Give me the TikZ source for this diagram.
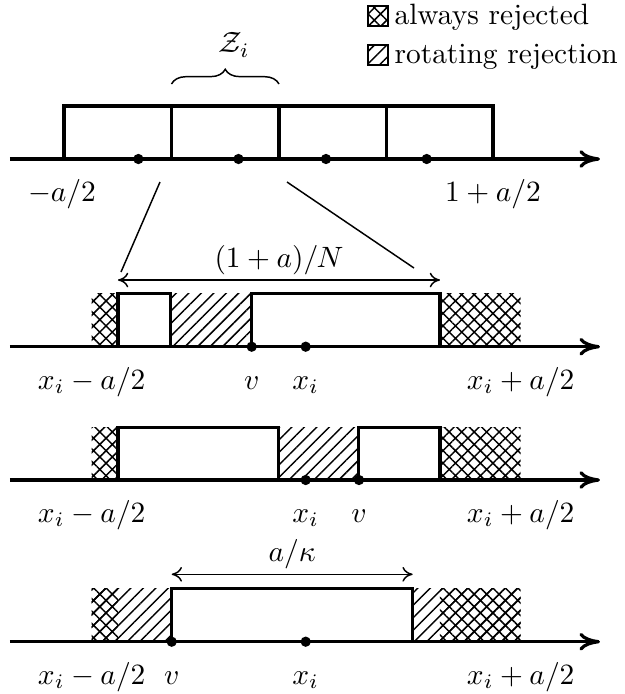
\documentclass[tikz,border=0pt]{standalone}
\usetikzlibrary{patterns.meta,arrows.meta,decorations.pathreplacing}
\begin{document}
\begin{tikzpicture}[x=0.34pt,y=-0.34pt,
  axis/.style={line width=1.1pt,-{To[length=7pt,width=6pt]}},
  bx/.style={line width=1.1pt},
  dot/.style={circle,fill,inner sep=0pt,minimum size=3.5pt},
  lbl/.style={anchor=base,inner sep=0pt},
  span/.style={line width=0.5pt,{To[length=3.5pt,width=5pt]}-{To[length=3.5pt,width=5pt]}},
  cross/.style={pattern={Hatch[angle=45,distance=3pt,line width=0.5pt]}},
  hatch/.style={pattern={Lines[angle=45,distance=3pt,line width=0.5pt]}},
  zoomline/.style={line width=0.5pt}]
\useasboundingbox (0,0) rectangle (624,694);

% legend
\draw[line width=0.6pt,cross] (368,6) rectangle (388,26);
\node[lbl,anchor=base west] (lg1) at (394,24) {always rejected};
\draw[line width=0.6pt,hatch] (368,45) rectangle (388,65);
\node[lbl,anchor=base west] (lg2) at (394,63) {rotating rejection};

% top panel
\coordinate (a0) at (10,159);
\coordinate (a1) at (600,159);
\draw[bx] (64,159) -- (64,106) -- (493,106) -- (493,159);
\foreach \x in {171.5,279,386.8} \draw[bx] (\x,106) -- (\x,159);
\draw[axis] (a0) -- (a1);
\foreach \x/\n in {138.4/d1,238.5/d2,326/d3,426.7/d4} \node[dot] (\n) at (\x,159) {};
\node[lbl] (lm) at (62,201) {$-a/2$};
\node[lbl] (lp) at (493,201) {$1+a/2$};
\coordinate (b0) at (171.5,84);
\coordinate (b1) at (279,84);
\draw[line width=0.5pt,decorate,decoration={brace,amplitude=5pt}] (b0) -- (b1);
\node (zi) at (234,45) {$\mathcal{Z}_i$};

% zoom lines
\coordinate (z1a) at (160,182);
\coordinate (z1b) at (121,272);
\coordinate (z2a) at (287,182);
\coordinate (z2b) at (414,268);
\draw[zoomline] (z1a) -- (z1b);
\draw[zoomline] (z2a) -- (z2b);

% panel 2
\fill[cross] (91.7,293.3) rectangle (118,346.7);
\fill[hatch] (170.7,293.3) rectangle (251.7,346.7);
\fill[cross] (440,293.3) rectangle (520.7,346.7);
\draw[bx] (118,346.7) |- (170.7,293.3) -- (170.7,346.7);
\draw[bx] (251.7,346.7) |- (440,293.3) -- (440,346.7);
\coordinate (p0) at (10,346.7);
\coordinate (p1) at (600,346.7);
\draw[axis] (p0) -- (p1);
\node[dot] (v2) at (251.7,346.7) {};
\node[dot] (x2) at (305.7,346.7) {};
\coordinate (s2a) at (118,280);
\coordinate (s2b) at (440,280);
\draw[span] (s2a) -- node[above=0pt,inner sep=1.5pt] (s2l) {$(1+a)/N$} (s2b);
\node[lbl] (l2a) at (91.7,389) {$x_i-a/2$};
\node[lbl] (l2b) at (251.7,389) {$v$};
\node[lbl] (l2c) at (305.7,389) {$x_i$};
\node[lbl] (l2d) at (520.7,389) {$x_i+a/2$};

% panel 3
\fill[cross] (91.7,427.7) rectangle (118,480);
\fill[hatch] (278.3,427.7) rectangle (358.3,480);
\fill[cross] (440,427.7) rectangle (520.7,480);
\draw[bx] (118,480) |- (278.3,427.7) -- (278.3,480);
\draw[bx] (358.3,480) |- (440,427.7) -- (440,480);
\coordinate (q0) at (10,480);
\coordinate (q1) at (600,480);
\draw[axis] (q0) -- (q1);
\node[dot] (x3) at (305.7,480) {};
\node[dot] (v3) at (359,480) {};
\node[lbl] (l3a) at (91.7,522) {$x_i-a/2$};
\node[lbl] (l3b) at (305.7,522) {$x_i$};
\node[lbl] (l3c) at (359,522) {$v$};
\node[lbl] (l3d) at (520.7,522) {$x_i+a/2$};

% panel 4
\fill[hatch] (91.7,588.3) rectangle (171.7,641.7);
\fill[cross] (91.7,588.3) rectangle (118,641.7);
\fill[hatch] (412.7,588.3) rectangle (520.7,641.7);
\fill[cross] (440,588.3) rectangle (520.7,641.7);
\draw[bx] (171.7,641.7) |- (412.7,588.3) -- (412.7,641.7);
\coordinate (r0) at (10,641.7);
\coordinate (r1) at (600,641.7);
\draw[axis] (r0) -- (r1);
\node[dot] (v4) at (171.7,641.7) {};
\node[dot] (x4) at (305.7,641.7) {};
\coordinate (s4a) at (171.7,574.3);
\coordinate (s4b) at (412.7,574.3);
\draw[span] (s4a) -- node[above=0pt,inner sep=1.5pt] (s4l) {$a/\kappa$} (s4b);
\node[lbl] (l4a) at (91.7,684) {$x_i-a/2$};
\node[lbl] (l4b) at (171.7,684) {$v$};
\node[lbl] (l4c) at (305.7,684) {$x_i$};
\node[lbl] (l4d) at (520.7,684) {$x_i+a/2$};
\end{tikzpicture}
\end{document}
